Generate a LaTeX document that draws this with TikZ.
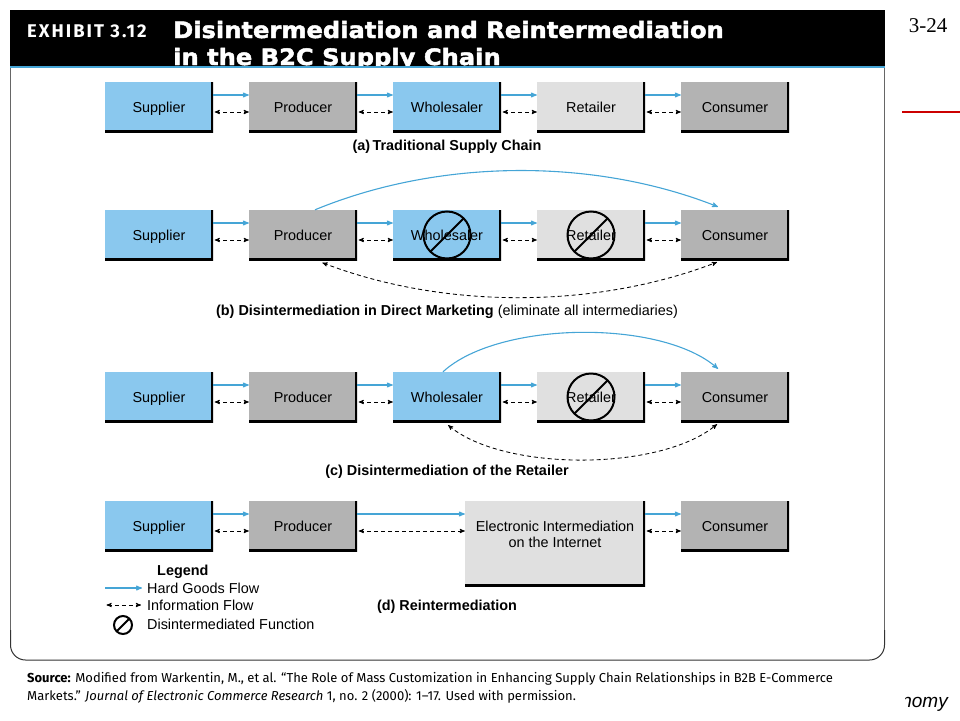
\documentclass[tikz,border=0pt]{standalone}
\usepackage{fontspec}
\setmainfont{Liberation Sans}
\newfontfamily\titlefont[FakeBold=2, FakeStretch=1.07]{DejaVu Sans Bold}
\newfontfamily\exhibitfont[LetterSpace=11]{Fira Sans}
\newfontfamily\notefont{Fira Sans}
\newfontfamily\pagefont{Liberation Serif}
\usetikzlibrary{positioning, arrows}
\definecolor{skyfill}{HTML}{8AC8EE}
\definecolor{darkfill}{HTML}{B3B3B3}
\definecolor{lightfill}{HTML}{E0E0E0}
\definecolor{flowblue}{HTML}{45A5D6}
\tikzset{
x=1pt, y=1pt,
>=stealth', % small bold arrow heads
node distance=144pt, % from box centre to box centre
box/.style={minimum width=108pt, minimum height=50pt, inner sep=0pt, text height=11pt, text depth=1pt, font=\fontsize{14.4}{17}\selectfont,
  path picture={\draw[line width=5pt] (path picture bounding box.north east) -- (path picture bounding box.south east) -- (path picture bounding box.south west);}},
supplier/.style={box, fill=skyfill},
producer/.style={box, fill=darkfill},
retailer/.style={box, fill=lightfill},
goods/.style={->, flowblue, line width=1.1pt},
info/.style={<->, black, line width=0.85pt, dash pattern=on 4pt off 3pt, shorten <=1.5pt},
nosign/.style={circle, draw, line width=2pt, minimum size=#1, inner sep=0pt,
  path picture={\draw[line width=2pt] (path picture bounding box.south west) -- (path picture bounding box.north east);}},
caption/.style={font=\fontsize{14.4}{17}\bfseries\selectfont, inner sep=0pt},
legend/.style={font=\fontsize{14.4}{17}\selectfont, inner sep=0pt, anchor=base west},
}

\begin{document}
\begin{tikzpicture}
        \useasboundingbox (0,0) rectangle (960,-720);

        % header, its second line is cut off by the panel
        \fill[black] (10,-10) rectangle (885,-67);
        \node[anchor=base west, inner sep=0pt, white, font=\exhibitfont\bfseries\fontsize{18.4}{20}\selectfont] (exhibit) at (27,-37) {EXHIBIT 3.12};
        \node[anchor=base west, inner sep=0pt, white, font=\titlefont\fontsize{22.6}{27}\selectfont] (title1) at (173,-38) {Disintermediation and Reintermediation};
        \node[anchor=base west, inner sep=0pt, white, font=\titlefont\fontsize{22.6}{27}\selectfont] (title2) at (173,-65) {in the B2C Supply Chain};
        \fill[white] (10,-66) rectangle (885,-80);
        \draw[black!60, line width=1pt] (10.5,-66) -- (10.5,-640) (884.5,-66) -- (884.5,-640);
        \draw[black!80, line width=1pt, rounded corners=15pt] (10.5,-630) -- (10.5,-660) -- (884.5,-660) -- (884.5,-630);
        \draw[flowblue, line width=2pt] (10,-66.5) -- (885,-66.5);

        \node[anchor=base, inner sep=0pt, font=\pagefont\fontsize{21}{24}\selectfont] (page) at (928,-32) {3-24};
        \coordinate (redl) at (902,-112);
        \coordinate (redr) at (960,-112);
        \draw[red!80!black, line width=2pt] (redl) -- (redr);

        % (a)
        \node[supplier] (s1) at (159,-107) {Supplier};
        \node[producer, right of=s1] (p1) {Producer};
        \node[supplier, right of=p1] (w1) {Wholesaler};
        \node[retailer, right of=w1] (r1) {Retailer};
        \node[producer, right of=r1] (c1) {Consumer};
        \node[caption] (capa) at (447,-146.5) {(a)\,Traditional Supply Chain};

        % (b)
        \node[supplier, below of=s1, node distance=128pt] (s2) {Supplier};
        \node[producer, right of=s2] (p2) {Producer};
        \node[supplier, right of=p2] (w2) {Wholesaler};
        \node[retailer, right of=w2] (r2) {Retailer};
        \node[producer, right of=r2] (c2) {Consumer};
        \node[nosign=47pt] (nw2) at (w2) {};
        \node[nosign=47pt] (nr2) at (r2) {};
        \node[inner sep=0pt, font=\fontsize{14.4}{17}\selectfont] (capb) at (447,-311.5) {\textbf{(b) Disintermediation in Direct Marketing} (eliminate all intermediaries)};

        % (c)
        \node[supplier, below of=s2, node distance=162pt] (s3) {Supplier};
        \node[producer, right of=s3] (p3) {Producer};
        \node[supplier, right of=p3] (w3) {Wholesaler};
        \node[retailer, right of=w3] (r3) {Retailer};
        \node[producer, right of=r3] (c3) {Consumer};
        \node[nosign=47pt] (nr3) at (r3) {};
        \node[caption] (capc) at (447,-471.5) {(c) Disintermediation of the Retailer};

        % (d)
        \node[supplier, below of=s3, node distance=129pt] (s4) {Supplier};
        \node[producer, right of=s4] (p4) {Producer};
        \node[retailer, minimum width=180pt, minimum height=85pt, anchor=north] (e4) at (555,-501) {};
        \node[align=center, inner sep=0pt, font=\fontsize{14.4}{16}\selectfont] (etext) at (555,-534) {Electronic Intermediation\\on the Internet};
        \node[producer, below of=c3, node distance=129pt] (c4) {Consumer};
        \node[caption] (capd) at (447,-606.5) {(d) Reintermediation};

        % flows between neighbours
        \draw ([yshift=12pt]s1.east) edge[goods] ([yshift=12pt]p1.west)
        ([yshift=-5pt]s1.east) edge[info] ([yshift=-5pt]p1.west)
        ([yshift=12pt]p1.east) edge[goods] ([yshift=12pt]w1.west)
        ([yshift=-5pt]p1.east) edge[info] ([yshift=-5pt]w1.west)
        ([yshift=12pt]w1.east) edge[goods] ([yshift=12pt]r1.west)
        ([yshift=-5pt]w1.east) edge[info] ([yshift=-5pt]r1.west)
        ([yshift=12pt]r1.east) edge[goods] ([yshift=12pt]c1.west)
        ([yshift=-5pt]r1.east) edge[info] ([yshift=-5pt]c1.west);

        \draw ([yshift=12pt]s2.east) edge[goods] ([yshift=12pt]p2.west)
        ([yshift=-5pt]s2.east) edge[info] ([yshift=-5pt]p2.west)
        ([yshift=12pt]p2.east) edge[goods] ([yshift=12pt]w2.west)
        ([yshift=-5pt]p2.east) edge[info] ([yshift=-5pt]w2.west)
        ([yshift=12pt]w2.east) edge[goods] ([yshift=12pt]r2.west)
        ([yshift=-5pt]w2.east) edge[info] ([yshift=-5pt]r2.west)
        ([yshift=12pt]r2.east) edge[goods] ([yshift=12pt]c2.west)
        ([yshift=-5pt]r2.east) edge[info] ([yshift=-5pt]c2.west)
        ([xshift=12pt]p2.north) edge[goods, bend left=22, looseness=0.85] ([xshift=-17pt, yshift=3pt]c2.north)
        ([xshift=18pt, yshift=-2pt]p2.south) edge[info, bend right=21, looseness=0.85] ([xshift=-18pt, yshift=-2pt]c2.south);

        \draw ([yshift=12pt]s3.east) edge[goods] ([yshift=12pt]p3.west)
        ([yshift=-5pt]s3.east) edge[info] ([yshift=-5pt]p3.west)
        ([yshift=12pt]p3.east) edge[goods] ([yshift=12pt]w3.west)
        ([yshift=-5pt]p3.east) edge[info] ([yshift=-5pt]w3.west)
        ([yshift=12pt]w3.east) edge[goods] ([yshift=12pt]r3.west)
        ([yshift=-5pt]w3.east) edge[info] ([yshift=-5pt]r3.west)
        ([yshift=12pt]r3.east) edge[goods] ([yshift=12pt]c3.west)
        ([yshift=-5pt]r3.east) edge[info] ([yshift=-5pt]c3.west)
        ([xshift=-4pt]w3.north) edge[goods, bend left=42, looseness=0.7] ([xshift=-17pt, yshift=3pt]c3.north)
        ([yshift=-2pt]w3.south) edge[info, bend right=40, looseness=0.7] ([xshift=-18pt, yshift=-2pt]c3.south);

        \draw ([yshift=12pt]s4.east) edge[goods] ([yshift=12pt]p4.west)
        ([yshift=-5pt]s4.east) edge[info] ([yshift=-5pt]p4.west)
        ([yshift=12pt]p4.east) edge[goods] ([yshift=-13pt]e4.north west)
        ([yshift=-5pt]p4.east) edge[info] ([yshift=-30pt]e4.north west)
        ([yshift=-13pt]e4.north east) edge[goods] ([yshift=12pt]c4.west)
        ([yshift=-30pt]e4.north east) edge[info] ([yshift=-5pt]c4.west);

        % legend
        \node[font=\fontsize{14.4}{17}\bfseries\selectfont, inner sep=0pt, anchor=base west] (leg) at (157,-575) {Legend};
        \node[legend] (leg1) at (147,-593) {Hard Goods Flow};
        \node[legend] (leg2) at (147,-610) {Information Flow};
        \node[legend] (leg3) at (147,-629) {Disintermediated Function};
        \coordinate (g0) at (105,-588);
        \coordinate (g1) at (142,-588);
        \coordinate (i0) at (105,-605);
        \coordinate (i1) at (141,-605);
        \draw (g0) edge[goods] (g1)
        (i0) edge[info] (i1);
        \node[nosign=18pt] (nleg) at (123,-625) {};

        % source note
        \node[anchor=base west, inner sep=0pt, font=\notefont\fontsize{13}{18}\selectfont] (src1) at (27,-682) {\textbf{Source:} Modified from Warkentin, M., et al. “The Role of Mass Customization in Enhancing Supply Chain Relationships in B2B E-Commerce};
        \node[anchor=base west, inner sep=0pt, font=\notefont\fontsize{13}{18}\selectfont] (src2) at (27,-700) {Markets.” \textit{Journal of Electronic Commerce Research} 1, no. 2 (2000): 1–17. Used with permission.};

        % cut off at its left side
        \begin{scope}
        \clip (905,-690) rectangle (960,-715);
        \node[anchor=base east, inner sep=0pt, font=\fontsize{19}{22}\itshape\selectfont] (nomy) at (948,-707) {nomy};
        \end{scope}
      \end{tikzpicture}
\end{document}
